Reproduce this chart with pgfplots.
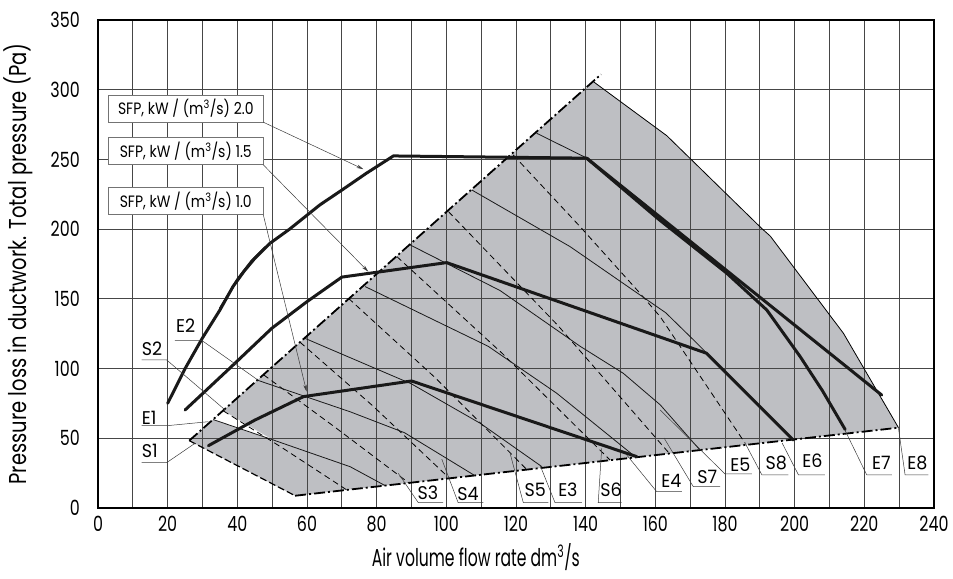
\documentclass[border=0pt]{standalone}
\usepackage{fontspec}
\setmainfont{Poppins}[FakeStretch=0.76]
\newfontfamily\xlfam{Poppins}[FakeStretch=0.64]
\newfontfamily\ylfam{Poppins}[FakeStretch=0.8]
\newfontfamily\wfam{Poppins}[FakeStretch=0.95]
\newfontfamily\bfam{Poppins}[FakeStretch=0.85]
\usepackage{pgfplots}
\pgfplotsset{compat=1.18}
\usetikzlibrary{arrows.meta}
\definecolor{regiongray}{RGB}{190,191,195}
\definecolor{gridc}{RGB}{70,70,70}
\definecolor{leadc}{RGB}{60,60,60}
\newcommand\tickfont{\fontsize{21}{23}\selectfont}
\newcommand\xlabfont{\xlfam\fontsize{24.5}{27}\selectfont}
\newcommand\ylabfont{\ylfam\fontsize{24.5}{27}\selectfont}
\newcommand\lblfont{\wfam\fontsize{18.5}{20}\selectfont}
\newcommand\boxfont{\bfam\fontsize{16.5}{19}\selectfont}
\tikzset{
  sline/.style={black, line width=0.8bp, dash pattern=on 6bp off 4bp},
  eline/.style={black!90, line width=0.8bp},
  sfp/.style={black!90, line width=3bp, line join=round, line cap=round},
  bnd/.style={black, line width=1.8bp, dash pattern=on 11bp off 3bp on 2bp off 3bp},
  lead/.style={leadc, line width=0.5bp},
  lbl/.style={font=\lblfont, inner sep=0pt, anchor=center},
  sfpbox/.style={draw=black!55, line width=0.7bp, fill=white, minimum width=155bp, minimum height=27bp, inner sep=0pt, font=\boxfont}
}
\begin{document}
\begin{tikzpicture}
\begin{axis}[
  set layers,
  scale only axis, width=836bp, height=488bp,
  xmin=0, xmax=240, ymin=0, ymax=350,
  clip=false,
  xtick={0,20,...,240}, ytick={0,50,...,350},
  minor xtick={10,30,...,230},
  grid=both,
  major grid style={gridc, line width=0.8bp},
  minor grid style={gridc, line width=0.8bp},
  axis line style={line width=2.2bp},
  major tick length=0pt, minor tick length=0pt,
  /pgf/number format/assume math mode=true,
  ticklabel style={font=\tickfont},
  xticklabel style={anchor=north, inner sep=0pt, yshift=-8bp},
  yticklabel style={anchor=east, inner sep=0pt, xshift=-18bp},
  xlabel={Air volume flow rate dm\textsuperscript{3}/s},
  ylabel={Pressure loss in ductwork. Total pressure (Pa)},
  x label style={font=\xlabfont, at={(axis description cs:0.452,-0.1)}, anchor=center},
  y label style={font=\ylabfont, at={(axis description cs:-0.095,0.5)}, anchor=center},
]
% shaded operating region
\addplot[fill=regiongray, draw=none, on layer=axis background] coordinates {
 (26.2,48.3) (56.6,8.8) (229.8,57.6) (214,125.3) (193,195) (190.5,200.6) (163.3,267) (142.2,305.8)} -- cycle;
\addplot[fill=white, draw=none, on layer=axis background] coordinates {
 (33.1,63.4) (36.0,69.6) (50.3,48.6)} -- cycle;

% boundaries
\addplot[bnd] coordinates {(26.2,48.3) (144.4,311)};
\addplot[bnd] coordinates {(56.6,8.8) (229.8,57.6)};
\addplot[black, line width=1.2bp, dash pattern=on 7bp off 3bp] coordinates {(26.2,48.3) (56.6,8.8)};
\addplot[black, line width=0.8bp] coordinates {(142.2,305.8) (163.3,267) (190.5,200.6) (193,195) (214,125.3) (229.8,57.6)};

% S lines (dashed)
\addplot[sline] coordinates {(36.0,69.6) (53,43) (71.4,13.0)};
\addplot[sline] coordinates {(47.5,95.6) (68,58) (89.6,17.3)};
\addplot[sline] coordinates {(58,118.9) (79,73) (100.6,22.0)};
\addplot[sline] coordinates {(71.9,150.4) (97,93) (123.1,27.6)};
\addplot[sline] coordinates {(85.8,180.3) (116,111) (147,34.4)};
\addplot[sline] coordinates {(100.6,212.6) (132,131) (164,39.2)};
\addplot[sline] coordinates {(119.2,253.2) (138.4,201.8) (155.6,154) (161.4,137.2) (185.8,46.4)};

% E lines (solid)
\addplot[eline] coordinates {(33.1,63.4) (50.3,48.8) (72.4,29.6) (82.4,16.1)};
\addplot[eline] coordinates {(45.5,91.9) (72.4,69) (88,54) (108.2,23.2)};
\addplot[eline] coordinates {(59.4,121.7) (90,89) (109.7,60.8) (127.4,29.7)};
\addplot[eline] coordinates {(76.7,158.8) (112,116) (131.7,82.3) (154.2,36.8)};
\addplot[eline] coordinates {(89.6,188.7) (100,175.5) (115.4,156) (138.4,116) (150.8,96.6) (161.4,74) (172.8,41.6)};
\addplot[eline] coordinates {(107.3,228.1) (135.5,187.5) (163,140) (172,118) (199.6,48.8)};
\addplot[eline] coordinates {(125.9,268.8) (140.3,251)};
\addplot[sfp] coordinates {(140.3,250.9) (161,207) (180.5,168.4) (192,142) (201.6,108.5) (208,84) (214.5,56.3)};

% SFP lines
\addplot[sfp] coordinates {(20,75.1) (25,100) (30,122) (35,142) (38.8,159) (42,170) (45,179) (49.4,189.9) (55,200) (63.7,217.4) (70,228) (77,240) (84.8,252.5) (140.3,250.9) (225,81)};
\addplot[sfp, line width=2.2bp] coordinates {(35,143) (40,164) (44,177) (48,187)};
\addplot[sfp] coordinates {(25,70.3) (37.5,99.5) (49.9,128.9) (60,148) (70,165.6) (100.1,176) (174.7,111) (199.6,48.8)};
\addplot[sfp] coordinates {(31.7,44.7) (45,63) (59,79.9) (90,91.1) (154.7,36.8)};

% SFP boxes and arrows
\node[sfpbox] at (axis cs:25.2,286.5) {SFP, kW / (m\textsuperscript{3}/s) 2.0};
\node[sfpbox] at (axis cs:25.2,256.0) {SFP, kW / (m\textsuperscript{3}/s) 1.5};
\node[sfpbox] at (axis cs:25.2,220.1) {SFP, kW / (m\textsuperscript{3}/s) 1.0};
\draw[lead, -{Stealth[length=7bp,width=3.5bp]}] (axis cs:47.46,276.7) -- (axis cs:76.2,243);
\draw[lead, -{Stealth[length=7bp,width=3.5bp]}] (axis cs:47.46,246.1) -- (axis cs:77.6,169.5);
\draw[lead, -{Stealth[length=7bp,width=3.5bp]}] (axis cs:47.46,210.2) -- (axis cs:59.9,83.4);

% left labels
\node[lbl, anchor=west] at (axis cs:22.4,130.6) {E2};
\draw[lead] (axis cs:22.1,120.2) -- (axis cs:29.8,120.2) -- (axis cs:45.9,91.8);
\node[lbl, anchor=west] at (axis cs:12.55,114.1) {S2};
\draw[lead] (axis cs:12.55,106.2) -- (axis cs:19.7,106.2) -- (axis cs:36.5,70.3);
\node[lbl, anchor=west] at (axis cs:12.55,64.9) {E1};
\draw[lead] (axis cs:12.55,59.0) -- (axis cs:19.7,59.0) -- (axis cs:31.7,61.9);
\node[lbl, anchor=west] at (axis cs:12.55,40.9) {S1};
\draw[lead] (axis cs:12.55,32.5) -- (axis cs:19.7,32.5) -- (axis cs:27.85,46.4);

% bottom labels
\node[lbl] at (axis cs:94.7,11.1) {S3};
\draw[lead] (axis cs:99.1,3.8) -- (axis cs:91.96,3.8) -- (axis cs:86.2,24.9);
\node[lbl] at (axis cs:106.2,10.2) {S4};
\draw[lead] (axis cs:110.6,3.8) -- (axis cs:103.4,3.8) -- (axis cs:98.7,35);
\node[lbl] at (axis cs:125.5,12.9) {S5};
\draw[lead] (axis cs:129.3,3.8) -- (axis cs:122.1,3.8) -- (axis cs:118.3,39.2);
\node[lbl] at (axis cs:134.9,12.9) {E3};
\draw[lead] (axis cs:138.9,3.8) -- (axis cs:131.2,3.8) -- (axis cs:126.9,30.8);
\node[lbl] at (axis cs:147.3,12.9) {S6};
\draw[lead] (axis cs:150.3,3.8) -- (axis cs:143.6,3.8) -- (axis cs:144.6,42.8);
\node[lbl] at (axis cs:164.6,19.6) {E4};
\draw[lead] (axis cs:167.6,11.7) -- (axis cs:160.4,11.7) -- (axis cs:151.8,38);
\node[lbl] at (axis cs:174.9,22.4) {S7};
\draw[lead] (axis cs:178.6,15.3) -- (axis cs:170.9,15.3) -- (axis cs:162.5,50.2);
\node[lbl] at (axis cs:184.4,31.0) {E5};
\draw[lead] (axis cs:187.7,24.4) -- (axis cs:180,24.4) -- (axis cs:161.4,70.3);
\node[lbl] at (axis cs:194.7,32.6) {S8};
\draw[lead] (axis cs:198.2,23.7) -- (axis cs:190.6,23.7) -- (axis cs:185.8,46.4);
\node[lbl] at (axis cs:205.1,33.6) {E6};
\draw[lead] (axis cs:208.7,23.7) -- (axis cs:201.1,23.7) -- (axis cs:196.4,46.6);
\node[lbl] at (axis cs:224.9,32.6) {E7};
\draw[lead] (axis cs:227.9,23.7) -- (axis cs:220.7,23.7) -- (axis cs:214.5,55.5);
\node[lbl] at (axis cs:235.2,32.6) {E8};
\draw[lead] (axis cs:238.4,23.7) -- (axis cs:231.7,23.7) -- (axis cs:229.8,57.2);
\end{axis}
\pgfresetboundingbox
\path[use as bounding box] (-98bp,-71bp) rectangle (855bp,508bp);
\end{tikzpicture}
\end{document}
